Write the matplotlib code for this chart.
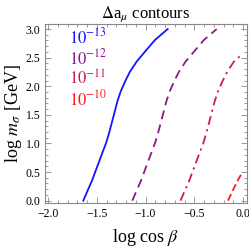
import matplotlib
matplotlib.use("Agg")
import matplotlib.pyplot as plt
from matplotlib.ticker import MultipleLocator, FuncFormatter

plt.rcParams['font.family'] = ['Liberation Serif', 'DejaVu Serif']
plt.rcParams['mathtext.fontset'] = 'stix'

# contour lines (x = log cos beta, y = log m_sigma)
y_all = [0.0, 0.163, 0.337, 0.570, 0.803, 1.006, 1.181, 1.355, 1.530,
         1.734, 1.908, 2.083, 2.257, 2.432, 2.606, 2.810, 3.0]
x_13 = [-1.638, -1.597, -1.552, -1.501, -1.450, -1.405, -1.374, -1.347, -1.320,
        -1.289, -1.255, -1.210, -1.159, -1.091, -1.005, -0.903, -0.773]
x_12 = [-1.136, -1.095, -1.050, -0.999, -0.948, -0.903, -0.872, -0.845, -0.818,
        -0.787, -0.753, -0.708, -0.657, -0.589, -0.503, -0.401, -0.271]
x_11 = [-0.642, -0.600, -0.555, -0.504, -0.453, -0.408, -0.377, -0.350, -0.323,
        -0.292, -0.258, -0.213, -0.162, -0.094, -0.03]
y_11 = [0.0, 0.163, 0.337, 0.570, 0.803, 1.006, 1.181, 1.355, 1.530,
        1.734, 1.908, 2.083, 2.257, 2.432, 2.53]
x_10 = [-0.155, -0.11, -0.06, -0.01]
y_10 = [0.0, 0.163, 0.337, 0.49]
labels = ['$10^{-13}$', '$10^{-12}$', '$10^{-11}$', '$10^{-10}$']
label_y = [2.85, 2.49, 2.13, 1.77]
colors = ['#1414ff', '#8a1a8a', '#cc1a55', '#ff1a1a']

fig = plt.figure(figsize=(2.49, 2.49), dpi=100)
ax = fig.add_axes([0.181, 0.185, 0.811, 0.719])

ax.plot(x_13, y_all, color=colors[0], lw=1.3)
ax.plot(x_12, y_all, color=colors[1], lw=1.3, dashes=(5, 3))
ax.plot(x_11, y_11, color=colors[2], lw=1.3, dashes=(5, 2.5, 1.2, 2.5))
ax.plot(x_10, y_10, color=colors[3], lw=1.3, dashes=(4, 2))

# labels in upper left
for lab, yy, c in zip(labels, label_y, colors):
    ax.text(-1.785, yy, lab, color=c, fontsize=12, va='center', ha='left')

ax.set_xlim(-2.03, 0.04)
ax.set_ylim(-0.04, 3.09)
ax.xaxis.set_major_locator(MultipleLocator(0.5))
ax.xaxis.set_minor_locator(MultipleLocator(0.1))
ax.yaxis.set_major_locator(MultipleLocator(0.5))
ax.yaxis.set_minor_locator(MultipleLocator(0.1))
ax.xaxis.set_major_formatter(FuncFormatter(lambda v, p: f"{v:.1f}".replace('-', '\u2212')))
ax.yaxis.set_major_formatter(FuncFormatter(lambda v, p: f"{v:.1f}"))
ax.tick_params(which='both', direction='in', top=True, right=True, colors='#888888',
               labelcolor='black', labelsize=8.5, width=0.6)
ax.tick_params(which='major', length=4)
ax.tick_params(which='minor', length=2)
for s in ax.spines.values():
    s.set_color('#888888')
    s.set_linewidth(0.8)

ax.set_xlabel(r'log cos $\beta$', fontsize=13, labelpad=5)
ax.set_ylabel(r'log $m_\sigma$ [GeV]', fontsize=13, labelpad=1)
ax.set_title(r'$\Delta$a$_\mu$ contours', fontsize=12, pad=4)

fig.savefig('out.png', dpi=100)
